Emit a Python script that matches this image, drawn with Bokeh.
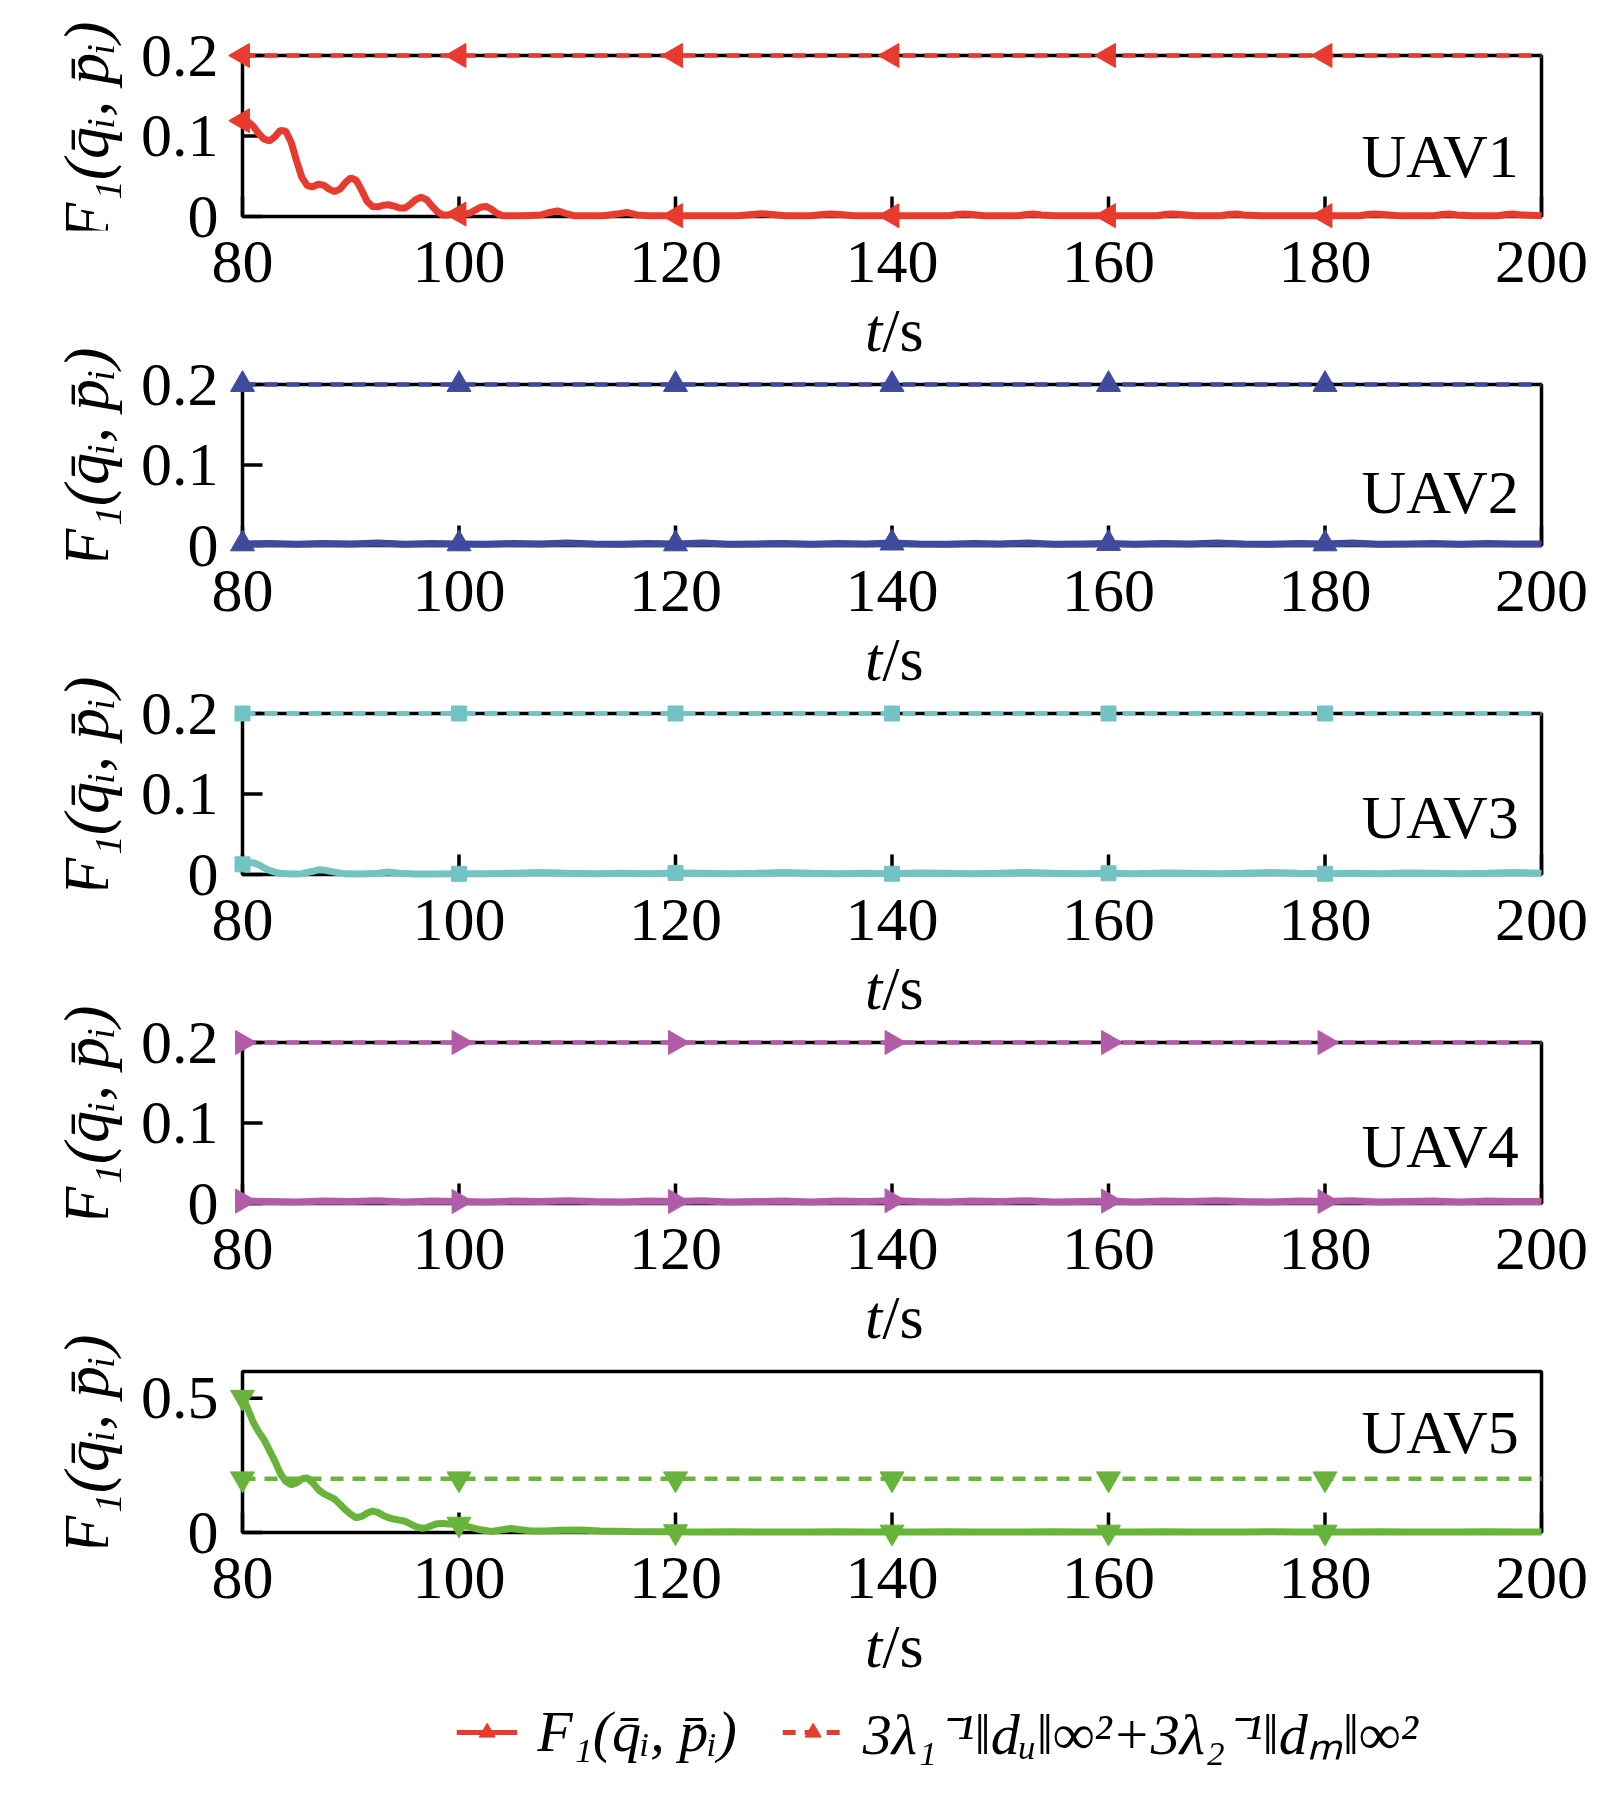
import numpy as np
from bokeh.plotting import figure
from bokeh.models import Range1d, FixedTicker, Label, Legend, LegendItem
from bokeh.layouts import column, row
from bokeh.embed import file_html
from bokeh.resources import INLINE

FONT = "Liberation Serif"

# ---------------- data ----------------
x_ticks = [80, 100, 120, 140, 160, 180, 200]
marker_t = [80, 100, 120, 140, 160, 180]
bound_t = [80, 200]
bound_val = [0.2, 0.2, 0.2, 0.2, 0.2]
uav_names = ["UAV1", "UAV2", "UAV3", "UAV4", "UAV5"]

# common 2.5 s sampling grid
t_grid = [80, 82.5, 85, 87.5, 90, 92.5, 95, 97.5, 100,
          102.5, 105, 107.5, 110, 112.5, 115, 117.5, 120,
          122.5, 125, 127.5, 130, 132.5, 135, 137.5, 140,
          142.5, 145, 147.5, 150, 152.5, 155, 157.5, 160,
          162.5, 165, 167.5, 170, 172.5, 175, 177.5, 180,
          182.5, 185, 187.5, 190, 192.5, 195, 197.5, 200]

# UAV1
t1 = [80, 80.5, 81, 81.5, 82, 82.5, 83, 83.5, 84, 84.5, 85, 85.5, 86, 86.5, 87, 87.5,
      88, 88.5, 89, 89.5, 90, 90.5, 91, 91.5, 92, 92.5, 93, 93.5, 94, 94.5, 95, 95.5,
      96, 96.5, 97, 97.5, 98, 98.5, 99, 99.5, 100, 100.5, 101, 101.5, 102, 102.5, 103,
      103.5, 104,
      106, 107.6, 108.4, 109.1, 109.8, 110.6, 113.3, 114.6, 115.5, 116.4, 117.5, 120,
      125.8, 127.1, 128.0, 128.9, 130.2, 132.5, 133.6, 134.4, 135.2, 136.5, 140,
      145.3, 146.0, 146.7, 147.4, 148.5, 151.7, 152.4, 153.1, 153.8, 155, 160,
      164.5, 165.2, 165.9, 166.6, 168, 170.4, 171.1, 171.8, 172.5, 174, 180,
      183.2, 183.9, 184.6, 185.3, 186.8, 190.1, 190.8, 191.5, 192.2, 193.5, 196, 196.7,
      197.4, 198.1, 200]
f1 = [0.119, 0.118, 0.112, 0.103, 0.096, 0.094, 0.099, 0.107, 0.106, 0.092, 0.069, 0.048,
      0.038, 0.037, 0.040, 0.039, 0.034, 0.031, 0.034, 0.042, 0.048, 0.045, 0.033, 0.019,
      0.0125, 0.012, 0.014, 0.0146, 0.013, 0.0105, 0.0105, 0.015, 0.021, 0.024, 0.021,
      0.013, 0.006, 0.002, 0.002, 0.003, 0.003, 0.003, 0.004, 0.008, 0.0115, 0.0125,
      0.009, 0.004, 0.001,
      0.001, 0.002, 0.005, 0.007, 0.004, 0.001, 0.001, 0.003, 0.005, 0.002, 0.001, 0.001,
      0.001, 0.0025, 0.0035, 0.0025, 0.001, 0.001, 0.0025, 0.003, 0.0025, 0.001, 0.001,
      0.001, 0.0025, 0.003, 0.0025, 0.001, 0.001, 0.0025, 0.003, 0.002, 0.001, 0.001,
      0.001, 0.0025, 0.003, 0.0025, 0.001, 0.001, 0.0025, 0.003, 0.002, 0.001, 0.001,
      0.001, 0.0025, 0.003, 0.0025, 0.001, 0.001, 0.0025, 0.003, 0.002, 0.001, 0.001,
      0.0025, 0.003, 0.002, 0.001]

# UAV2
t2 = t_grid
f2 = [0.002, 0.0025, 0.0015, 0.0025, 0.002, 0.003, 0.0015, 0.0025, 0.002,
      0.0015, 0.0025, 0.002, 0.003, 0.002, 0.0015, 0.0025, 0.002,
      0.003, 0.0015, 0.002, 0.0025, 0.0015, 0.0025, 0.002, 0.003,
      0.002, 0.0015, 0.0025, 0.002, 0.003, 0.0015, 0.002, 0.0025,
      0.0015, 0.0025, 0.002, 0.003, 0.002, 0.0015, 0.0025, 0.002,
      0.003, 0.0015, 0.002, 0.0025, 0.0015, 0.0025, 0.002, 0.002]

# UAV3
t3 = [80, 80.5, 81, 81.5, 82, 82.5, 83, 83.5, 84.5, 85.5, 86.5, 87, 87.5, 88.5, 89.5,
      91, 92.5, 93.4, 94.5, 96, 97.5, 100] + t_grid[9:]
f3 = [0.0126, 0.0145, 0.0147, 0.012, 0.008, 0.005, 0.003, 0.0015, 0.0005, 0.001, 0.004,
      0.0058, 0.0055, 0.003, 0.0008, 0.0005, 0.0015, 0.003, 0.0015, 0.0005, 0.0005, 0.0008,
      0.001, 0.0015, 0.0025, 0.0015, 0.001, 0.0015, 0.001, 0.002,
      0.0015, 0.001, 0.0015, 0.0025, 0.0015, 0.001, 0.0015, 0.001,
      0.002, 0.0015, 0.001, 0.0015, 0.0025, 0.0015, 0.001, 0.0015,
      0.001, 0.002, 0.0015, 0.001, 0.0015, 0.0025, 0.0015, 0.001,
      0.0015, 0.001, 0.002, 0.0015, 0.001, 0.0015, 0.0025, 0.0015]

# UAV4
t4 = t_grid
f4 = [0.003, 0.0025, 0.002, 0.003, 0.0025, 0.0035, 0.002, 0.003, 0.0025,
      0.002, 0.003, 0.0025, 0.0035, 0.0025, 0.002, 0.003, 0.0025,
      0.0035, 0.002, 0.0025, 0.003, 0.002, 0.003, 0.0025, 0.0035,
      0.0025, 0.002, 0.003, 0.0025, 0.0035, 0.002, 0.0025, 0.003,
      0.002, 0.003, 0.0025, 0.0035, 0.0025, 0.002, 0.003, 0.0025,
      0.0035, 0.002, 0.0025, 0.003, 0.002, 0.003, 0.0025, 0.0025]

# UAV5
t5 = [80, 80.5, 81, 81.5, 82, 82.5, 83, 83.5, 84, 84.5, 85, 85.5, 86, 86.5, 87, 87.5,
      88, 88.5, 89, 89.5, 90, 90.5, 91, 91.5, 92, 92.5, 93, 93.5, 94, 94.5, 95, 95.5,
      96, 96.5, 97, 97.5, 98, 98.5, 99, 100, 100.5, 101, 102, 103, 104, 104.8, 105.5,
      106.6, 108, 109.5, 111.3, 113, 115.9, 118, 120, 121.5] + t_grid[17:]
f5 = [0.504, 0.46, 0.41, 0.375, 0.345, 0.305, 0.265, 0.22, 0.19, 0.178, 0.185, 0.2,
      0.203, 0.185, 0.16, 0.145, 0.135, 0.125, 0.105, 0.085, 0.068, 0.055, 0.06, 0.072,
      0.08, 0.075, 0.063, 0.055, 0.05, 0.046, 0.042, 0.032, 0.022, 0.016, 0.018, 0.026,
      0.033, 0.034, 0.032, 0.031, 0.026, 0.02, 0.01, 0.004, 0.01, 0.015, 0.011, 0.006,
      0.006, 0.008, 0.009, 0.006, 0.004, 0.003, 0.003, 0.002,
      0.002, 0.0025, 0.002, 0.0015, 0.002, 0.0025, 0.002, 0.0015,
      0.002, 0.0025, 0.002, 0.0015, 0.002, 0.0025, 0.002, 0.0015,
      0.002, 0.0025, 0.002, 0.0015, 0.002, 0.0025, 0.002, 0.0015,
      0.002, 0.0025, 0.002, 0.0015, 0.002, 0.0025, 0.002, 0.002]

series_t = [t1, t2, t3, t4, t5]
series_f = [f1, f2, f3, f4, f5]

# ---------------- styling / layout ----------------
colors = ["#e63b2e", "#3e4a9c", "#73c3c3", "#b25ca9", "#68b43a"]
markers = ["triangle", "triangle", "square", "triangle", "inverted_triangle"]
angles = [np.pi / 2, 0, 0, -np.pi / 2, 0]
msizes = [24, 24, 15, 24, 24]
y_ends = [0.2, 0.2, 0.2, 0.2, 0.6]
y_ticks = [[0, 0.1, 0.2]] * 4 + [[0, 0.5]]
label_frac = [0.375, 0.335, 0.355, 0.355, 0.625]   # height of "UAVn" in the box
YLABEL = "F\u2081(q\u0304\u1d62, p\u0304\u1d62)"
LEG2 = ("3\u03bb\u2081\u207b\u00b9\u2016d\u1d64\u2016\u221e\u00b2+"
        "3\u03bb\u2082\u207b\u00b9\u2016d\u2098\u2016\u221e\u00b2")

PAGE_W, PAGE_H = 1623, 1793
YLAB_W = 130                 # strip holding the rotated y title
W = PAGE_W - YLAB_W          # panel width
BOX_L, BOX_W, BOX_H = 242, 1299, 161   # axes box (page pixels)
BOX_TOP0, STEP = 55, 329     # top of first box, distance between boxes
PAD = 14                     # room round the box so markers are not cut
LEFT = BOX_L - YLAB_W - PAD
RIGHT = W - LEFT - BOX_W - 2 * PAD
CUT = 78                     # figure boundary below each box
TS_ANCHOR = 113.5            # anchor of "t/s" below each box
YL_SHIFT = 32                # rotated title anchor correction
FS = "62px"
TS_X = 139.1                 # where "t" ends and "/s" starts (time units)

x0, x1 = x_ticks[0], x_ticks[-1]
xp = PAD * (x1 - x0) / BOX_W


def bare(fig):
    fig.outline_line_color = None
    fig.xgrid.visible = False
    fig.ygrid.visible = False
    return fig


def add_ts(fig, x, y):
    fig.add_layout(Label(x=x, y=y, text="t", text_align="right",
                         text_baseline="alphabetic", text_font=FONT,
                         text_font_style="italic", text_font_size=FS, text_color="black"))
    fig.add_layout(Label(x=x, y=y, text="/s", text_align="left",
                         text_baseline="alphabetic", text_font=FONT, text_font_size=FS,
                         text_color="black"))


rows = []
for i in range(5):
    ymax = y_ends[i]
    upp = ymax / BOX_H                       # data units per pixel
    box_top = BOX_TOP0 + STEP * i
    fig_top = 0 if i == 0 else box_top - STEP + BOX_H + CUT
    fig_bot = box_top + BOX_H + CUT
    ph = fig_bot - fig_top
    above = box_top - fig_top                # frame reaches up to the figure top
    p = bare(figure(width=W, height=ph, x_range=Range1d(x0 - xp, x1 + xp),
                    y_range=Range1d(-PAD * upp, ymax + above * upp),
                    output_backend="svg", toolbar_location=None,
                    min_border_left=LEFT, min_border_right=RIGHT,
                    min_border_top=0, min_border_bottom=CUT - PAD))

    # axes box, under the data
    p.quad(left=x0, right=x1, bottom=0, top=ymax, fill_color=None,
           line_color="black", line_width=3.5, level="underlay")

    for ax in (p.xaxis[0], p.yaxis[0]):
        ax.axis_line_color = None
        ax.major_tick_in = 0
        ax.major_tick_out = 0
        ax.minor_tick_in = 0
        ax.minor_tick_out = 0
        ax.major_label_text_font = FONT
        ax.major_label_text_font_size = FS
        ax.major_label_text_color = "black"
    p.xaxis.ticker = FixedTicker(ticks=x_ticks)
    p.xaxis.major_label_standoff = 11
    p.yaxis.ticker = FixedTicker(ticks=y_ticks[i])
    p.yaxis.major_label_overrides = {v: ("0" if v == 0 else str(v)) for v in y_ticks[i]}
    p.yaxis.major_label_standoff = 10

    # inward tick marks
    p.ray(x=x_ticks, y=[0] * len(x_ticks), length=20, length_units="screen",
          angle=np.pi / 2, line_width=3.5, color="black")
    p.ray(x=[x0] * len(y_ticks[i]), y=y_ticks[i], length=20, length_units="screen",
          angle=0, line_width=3.5, color="black")

    c = colors[i]
    t = series_t[i]
    f = series_f[i]
    b = bound_val[i]
    # bound line
    p.line(bound_t, [b, b], color=c, line_width=4.5, line_dash="13 9")
    p.scatter(marker_t, [b] * len(marker_t), marker=markers[i], angle=angles[i],
              size=msizes[i], color=c)
    # F_1 curve
    p.line(t, f, color=c, line_width=7)
    idx = [t.index(m) for m in marker_t]
    p.scatter([t[k] for k in idx], [f[k] for k in idx], marker=markers[i],
              angle=angles[i], size=msizes[i], color=c)

    p.add_layout(Label(x=197.9, y=label_frac[i] * ymax, text=uav_names[i],
                       text_align="right", text_baseline="middle", text_font=FONT,
                       text_font_size=FS, text_color="black"))

    # "t/s" of the panel above sits in the top of this frame
    if i > 0:
        add_ts(p, TS_X, ymax + (STEP - BOX_H - TS_ANCHOR) * upp)

    # rotated y title in a strip on the left
    yl = bare(figure(width=YLAB_W, height=ph, x_range=Range1d(0, YLAB_W),
                     y_range=Range1d(0, ph), x_axis_type=None, y_axis_type=None,
                     output_backend="svg", toolbar_location=None,
                     min_border_left=0, min_border_right=0,
                     min_border_top=0, min_border_bottom=0))
    yl.add_layout(Label(x=86, y=ph - (above + BOX_H / 2) - YL_SHIFT, text=YLABEL,
                        angle=np.pi / 2, text_align="center", text_baseline="middle",
                        text_font=FONT, text_font_style="italic", text_font_size="64px",
                        text_color="black"))
    rows.append(row(yl, p))

# last "t/s" and the legend in one strip, in page pixels
lg_top = BOX_TOP0 + STEP * 4 + BOX_H + CUT
LG_H = PAGE_H - lg_top
lg_left = 2 * 937 - PAGE_W
lg = bare(figure(width=PAGE_W, height=LG_H, x_range=Range1d(lg_left, PAGE_W),
                 y_range=Range1d(PAGE_H, lg_top), x_axis_type=None, y_axis_type=None,
                 output_backend="svg", toolbar_location=None, min_border_left=lg_left,
                 min_border_right=0, min_border_top=0, min_border_bottom=0))
add_ts(lg, BOX_L + (TS_X - x0) / (x1 - x0) * BOX_W, lg_top - CUT + TS_ANCHOR)

red = colors[0]
l1 = lg.line([np.nan], [np.nan], color=red, line_width=5)
m1 = lg.scatter([np.nan], [np.nan], marker="triangle", angle=np.pi / 2, size=17, color=red)
l2 = lg.line([np.nan], [np.nan], color=red, line_width=5, line_dash="13 9")
m2 = lg.scatter([np.nan], [np.nan], marker="triangle", angle=np.pi / 2, size=17, color=red)
legend = Legend(items=[LegendItem(label=YLABEL, renderers=[l1, m1]),
                       LegendItem(label=LEG2, renderers=[l2, m2])],
                orientation="horizontal", location="bottom",
                label_text_font=FONT, label_text_font_style="italic",
                label_text_font_size="58px", label_text_color="black",
                glyph_width=61, glyph_height=40, label_standoff=20, spacing=45,
                border_line_color=None, background_fill_alpha=0, margin=22, padding=0)
lg.add_layout(legend, "center")

layout = column(*rows, lg)
open("out.html", "w").write(file_html(layout, INLINE, "F1 bound"))
